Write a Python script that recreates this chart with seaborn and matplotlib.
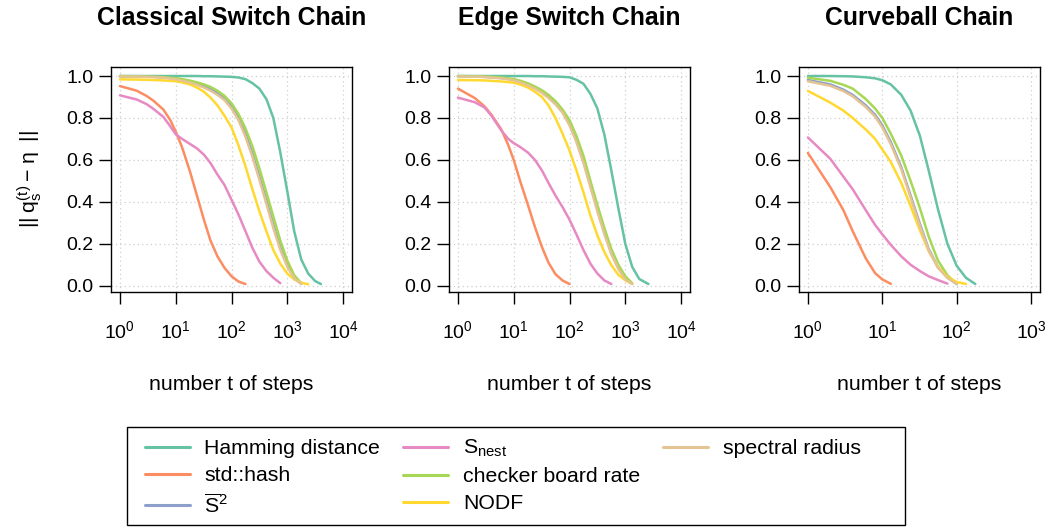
import matplotlib
matplotlib.use("Agg")
import matplotlib.pyplot as plt
from matplotlib.lines import Line2D
from matplotlib.patches import Rectangle
from matplotlib.ticker import FixedLocator, NullLocator, LogFormatterMathtext
import pandas as pd
import seaborn as sns

# ---------------------------------------------------------------- data
MEASURES = ["Hamming distance", "std::hash", r"$\overline{\mathrm{S}}^{2}$",
            r"S$_{\mathrm{nest}}$", "checker board rate", "NODF", "spectral radius"]
PANEL_TITLES = ["Classical Switch Chain", "Edge Switch Chain", "Curveball Chain"]

# Classical switch chain
csc_steps = [1, 2, 3, 4, 6, 8, 10, 13, 18, 24, 32, 42, 56, 75, 100, 133, 178,
             237, 316, 422, 562, 750, 1000, 1330, 1780, 2370, 3160, 4000]
csc_hamming = [1.0, 1.0, 1.0, 1.0, 1.0, 1.0, 1.0, 1.0, 1.0, 1.0, 0.999, 0.999,
               0.998, 0.997, 0.996, 0.993, 0.985, 0.966, 0.94, 0.89, 0.80, 0.635,
               0.45, 0.26, 0.125, 0.058, 0.022, 0.008]
csc_hash = [0.952, 0.93, 0.905, 0.882, 0.84, 0.79, 0.735, 0.66, 0.545, 0.43, 0.315,
            0.215, 0.14, 0.085, 0.045, 0.02, 0.008]
csc_s2 = [0.999, 0.998, 0.997, 0.996, 0.994, 0.99, 0.986, 0.981, 0.973, 0.963, 0.951,
          0.937, 0.918, 0.893, 0.855, 0.80, 0.725, 0.63, 0.52, 0.405, 0.29, 0.183,
          0.098, 0.04, 0.01]
csc_snest = [0.908, 0.888, 0.866, 0.843, 0.805, 0.76, 0.722, 0.70, 0.676, 0.655, 0.625,
             0.585, 0.53, 0.48, 0.41, 0.34, 0.26, 0.18, 0.115, 0.07, 0.038, 0.012]
csc_checker = [1.0, 0.999, 0.998, 0.997, 0.995, 0.992, 0.99, 0.985, 0.978, 0.97, 0.96,
               0.948, 0.93, 0.905, 0.87, 0.82, 0.75, 0.665, 0.56, 0.445, 0.33, 0.215,
               0.12, 0.05, 0.012]
csc_nodf = [0.984, 0.983, 0.982, 0.981, 0.979, 0.977, 0.975, 0.97, 0.96, 0.945, 0.925,
            0.897, 0.86, 0.81, 0.755, 0.67, 0.57, 0.46, 0.355, 0.26, 0.17, 0.105,
            0.058, 0.03, 0.014, 0.007]
csc_spectral = [0.998, 0.997, 0.996, 0.995, 0.992, 0.988, 0.984, 0.978, 0.969, 0.958,
                0.945, 0.93, 0.91, 0.885, 0.845, 0.79, 0.71, 0.615, 0.505, 0.39, 0.275,
                0.17, 0.09, 0.035, 0.008]

# Edge switch chain
esc_steps = [1, 2, 3, 4, 6, 8, 10, 13, 18, 24, 32, 42, 56, 75, 100, 133, 178,
             237, 316, 422, 562, 750, 1000, 1330, 1780, 2600]
esc_hamming = [1.0, 1.0, 1.0, 1.0, 1.0, 1.0, 1.0, 1.0, 1.0, 0.999, 0.999, 0.998,
               0.997, 0.996, 0.994, 0.982, 0.963, 0.915, 0.845, 0.72, 0.55, 0.37,
               0.2, 0.09, 0.032, 0.008]
esc_hash = [0.94, 0.895, 0.855, 0.815, 0.745, 0.67, 0.60, 0.50, 0.385, 0.28, 0.185,
            0.11, 0.055, 0.025, 0.008]
esc_s2 = [0.999, 0.998, 0.996, 0.994, 0.99, 0.986, 0.981, 0.972, 0.959, 0.943, 0.923,
          0.899, 0.87, 0.83, 0.772, 0.694, 0.595, 0.48, 0.365, 0.255, 0.158, 0.085,
          0.033, 0.009]
esc_snest = [0.897, 0.875, 0.85, 0.81, 0.74, 0.70, 0.68, 0.662, 0.635, 0.60, 0.55,
             0.49, 0.43, 0.375, 0.315, 0.245, 0.17, 0.105, 0.058, 0.025, 0.008]
esc_checker = [1.0, 0.999, 0.998, 0.996, 0.993, 0.989, 0.985, 0.978, 0.965, 0.95,
               0.932, 0.91, 0.88, 0.84, 0.79, 0.715, 0.62, 0.50, 0.385, 0.275, 0.175,
               0.10, 0.045, 0.012]
esc_nodf = [0.981, 0.98, 0.979, 0.977, 0.974, 0.971, 0.968, 0.96, 0.945, 0.925, 0.9,
            0.86, 0.8, 0.725, 0.645, 0.55, 0.445, 0.335, 0.24, 0.16, 0.098, 0.052,
            0.026, 0.009]
esc_spectral = [0.998, 0.997, 0.995, 0.993, 0.989, 0.984, 0.979, 0.97, 0.956, 0.94,
                0.92, 0.895, 0.865, 0.825, 0.765, 0.685, 0.585, 0.47, 0.355, 0.245,
                0.15, 0.08, 0.03, 0.008]

# Curveball chain
cb_steps = [1, 2, 3, 4, 6, 8, 10, 13, 18, 24, 32, 42, 56, 75, 100, 133, 178]
cb_hamming = [1.0, 1.0, 0.999, 0.998, 0.994, 0.989, 0.98, 0.96, 0.91, 0.835, 0.715,
              0.55, 0.365, 0.20, 0.095, 0.038, 0.008]
cb_hash = [0.633, 0.47, 0.36, 0.26, 0.13, 0.06, 0.03, 0.009]
cb_s2 = [0.981, 0.96, 0.935, 0.91, 0.86, 0.815, 0.765, 0.685, 0.565, 0.43, 0.295,
         0.175, 0.09, 0.04, 0.008]
cb_snest = [0.707, 0.605, 0.52, 0.46, 0.36, 0.29, 0.245, 0.195, 0.14, 0.10, 0.07,
            0.045, 0.027, 0.01]
cb_checker = [0.992, 0.977, 0.958, 0.94, 0.89, 0.845, 0.80, 0.725, 0.62, 0.50, 0.37,
              0.235, 0.12, 0.05, 0.008]
cb_nodf = [0.929, 0.873, 0.835, 0.80, 0.745, 0.70, 0.65, 0.59, 0.49, 0.38, 0.265,
           0.165, 0.09, 0.042, 0.018, 0.008]
cb_spectral = [0.975, 0.953, 0.928, 0.903, 0.852, 0.806, 0.755, 0.675, 0.555, 0.42,
               0.285, 0.168, 0.085, 0.037, 0.008]

X_TICKS = [[1, 10, 100, 1000, 10000], [1, 10, 100, 1000, 10000], [1, 10, 100, 1000]]
Y_TICKS = [0.0, 0.2, 0.4, 0.6, 0.8, 1.0]


def long_form(steps, series):
    rows = []
    for name, values in zip(MEASURES, series):
        for t, q in zip(steps, values):
            rows.append({"step": t, "q": q, "measure": name})
    return pd.DataFrame(rows)


panels = [
    long_form(csc_steps, [csc_hamming, csc_hash, csc_s2, csc_snest,
                          csc_checker, csc_nodf, csc_spectral]),
    long_form(esc_steps, [esc_hamming, esc_hash, esc_s2, esc_snest,
                          esc_checker, esc_nodf, esc_spectral]),
    long_form(cb_steps, [cb_hamming, cb_hash, cb_s2, cb_snest,
                         cb_checker, cb_nodf, cb_spectral]),
]

# ---------------------------------------------------------------- style
sns.set_style("white")
plt.rcParams["font.family"] = ["Liberation Sans", "DejaVu Sans"]
plt.rcParams["mathtext.fontset"] = "custom"
plt.rcParams["mathtext.rm"] = "Liberation Sans"
plt.rcParams["mathtext.it"] = "Liberation Sans:italic"
plt.rcParams["mathtext.bf"] = "Liberation Sans:bold"
for key in ["text.color", "axes.labelcolor", "xtick.color", "ytick.color",
            "axes.edgecolor"]:
    plt.rcParams[key] = "black"

palette = sns.color_palette("Set2", len(MEASURES))

W, H = 1053, 527
fig = plt.figure(figsize=(W / 100, H / 100), dpi=100)

box_left = [111, 449, 799]
box_width = 241
box_top, box_bottom = 67, 292
x_lims = [(10 ** -0.16, 10 ** 4.16), (10 ** -0.16, 10 ** 4.16), (10 ** -0.12, 10 ** 3.12)]

axes = []
for i, df in enumerate(panels):
    ax = fig.add_axes([box_left[i] / W, 1 - box_bottom / H,
                       box_width / W, (box_bottom - box_top) / H])
    axes.append(ax)
    ax.set_xscale("log")
    sns.lineplot(data=df, x="step", y="q", hue="measure", hue_order=MEASURES,
                 palette=palette, estimator=None, errorbar=None, sort=False,
                 linewidth=1.8, legend=(i == 0), ax=ax)
    ax.set_xlim(*x_lims[i])
    ax.set_ylim(-0.03, 1.043)
    ax.xaxis.set_major_locator(FixedLocator(X_TICKS[i]))
    ax.xaxis.set_major_formatter(LogFormatterMathtext())
    ax.xaxis.set_minor_locator(NullLocator())
    ax.yaxis.set_major_locator(FixedLocator(Y_TICKS))
    ax.set_yticklabels([f"{v:.1f}" for v in Y_TICKS])
    ax.grid(True, which="major", color="#cfcfcf", linestyle=(0, (1, 2.5)), linewidth=0.9)
    ax.set_axisbelow(True)
    for sp in ax.spines.values():
        sp.set_visible(True)
        sp.set_color("black")
        sp.set_linewidth(1.0)
    ax.tick_params(axis="both", which="major", direction="out", length=8.5, width=1.0,
                   color="black", labelcolor="black", labelsize=14,
                   bottom=True, left=True)
    ax.tick_params(axis="x", pad=12)
    ax.tick_params(axis="y", pad=4)
    ax.set_title(PANEL_TITLES[i], fontsize=17.8, fontweight="bold", pad=30,
                 color="black")
    ax.set_xlabel("number t of steps", fontsize=15.3, color="black")
    ax.xaxis.set_label_coords(0.5, (box_bottom - 375) / (box_bottom - box_top))
    ax.set_ylabel("")

fig.text(30 / W, 1 - 179.5 / H,
         r"$||\;\mathrm{q}_{\mathrm{s}}^{\mathrm{(t)}}-\,\mathrm{\eta}\;\;||$",
         rotation=90, ha="center", va="center", fontsize=15.3, color="black")

# ---------------------------------------------------------------- legend
leg = axes[0].get_legend()
handles = list(leg.legend_handles)
labels = [t.get_text() for t in leg.get_texts()]
leg.remove()
handles.append(Line2D([], [], color="none"))
labels.append("")
for h in handles:
    h.set_linewidth(2.2)

fig.legend(handles, labels, ncol=3, loc="upper left",
           bbox_to_anchor=(145 / W, 1 - 438 / H), frameon=False,
           fontsize=15.3, handlelength=2.1, handletextpad=0.7,
           columnspacing=1.08, labelspacing=0.38, borderpad=0, borderaxespad=0,
           labelcolor="black")
fig.add_artist(Rectangle((127 / W, 1 - 525 / H), (905 - 127) / W, (525 - 427) / H,
                         transform=fig.transFigure, fill=False,
                         edgecolor="black", linewidth=1.0))

fig.savefig("out.png", dpi=100)
